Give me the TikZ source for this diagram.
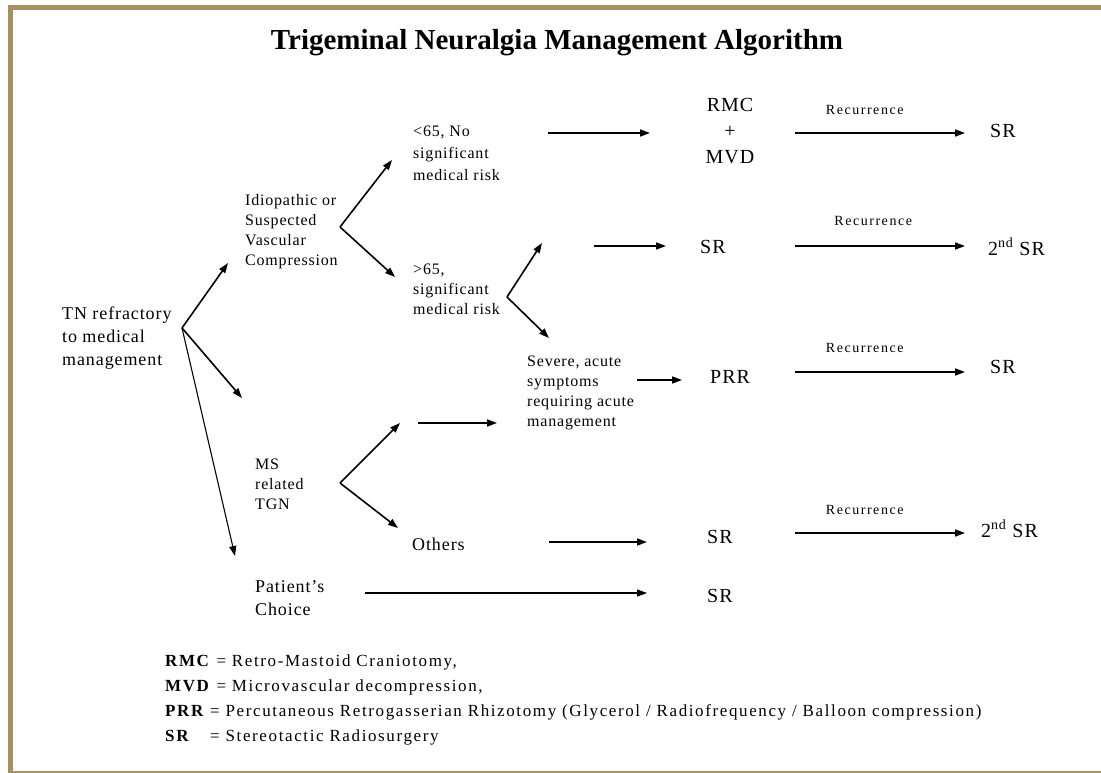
\documentclass[tikz,border=0pt]{standalone}
\usepackage{fontspec}
\setmainfont{Liberation Serif}
\newfontfamily\bodyfont{Liberation Serif}[Ligatures=TeX, LetterSpace=5]
\newfontfamily\wideletters{Liberation Serif}[Ligatures=TeX, LetterSpace=11]
\newfontfamily\legendfont{Liberation Serif}[Ligatures=TeX, LetterSpace=9.5]
\usepackage{tikz}
\usetikzlibrary{arrows.meta}
\definecolor{bordergold}{RGB}{166,145,96}

\begin{document}
\begin{tikzpicture}[x=1pt, y=-1pt,
      txt/.style    = {anchor=west, align=left, inner sep=0pt,
                       font=\bodyfont\fontsize{16}{20}\selectfont},
      big/.style    = {anchor=west, inner sep=0pt,
                       font=\bodyfont\fontsize{20}{23}\selectfont},
      rec/.style    = {inner sep=0pt, font=\wideletters\fontsize{14}{16}\selectfont},
      arr/.style    = {-{Triangle[length=10pt,width=7pt]}, line width=1.6pt},
      thinarr/.style = {arr, line width=1.1pt},
    ]
    \useasboundingbox (0,0) rectangle (1101,773);

    % --- Frame ---
    \fill[bordergold] (8,5) rectangle (1101,10);
    \fill[bordergold] (8,5) rectangle (13,773);
    \fill[bordergold] (13,771) rectangle (1101,773);

    \node[inner sep=0pt, font=\fontsize{29}{34}\selectfont\bfseries] (title) at (557,43)
      {Trigeminal Neuralgia Management Algorithm};

    % --- Stages (left to right) ---
    \node[txt, font=\bodyfont\fontsize{18}{23}\selectfont] (tn) at (62,338) {TN refractory\\to medical\\management};
    \node[txt] (idio)   at (245,232) {Idiopathic or\\Suspected\\Vascular\\Compression};
    \node[txt, font=\bodyfont\fontsize{16}{22}\selectfont] (young) at (413,153) {<65, No\\significant\\medical risk};
    \node[txt] (old)    at (413,289) {>65,\\significant\\medical risk};
    \node[txt] (severe) at (527,393) {Severe, acute\\symptoms\\requiring acute\\management};
    \node[txt] (ms)     at (255,484) {MS\\related\\TGN};
    \node[big, font=\bodyfont\fontsize{18}{23}\selectfont] (others) at (412,544) {Others};
    \node[txt, font=\bodyfont\fontsize{18}{23}\selectfont] (choice) at (255,598) {Patient's\\Choice};

    % --- Treatments ---
    \node[align=center, inner sep=0pt, font=\bodyfont\fontsize{20}{26}\selectfont] (rmc) at (730,131) {RMC\\+\\MVD};
    \node[big] (srA)  at (990,131) {SR};
    \node[big] (srB)  at (700,247) {SR};
    \node[big] (srB2) at (988,247) {2\textsuperscript{nd} SR};
    \node[big] (prr)  at (710,377) {PRR};
    \node[big] (srC)  at (990,367) {SR};
    \node[big] (srD)  at (707,537) {SR};
    \node[big] (srD2) at (981,529) {2\textsuperscript{nd} SR};
    \node[big] (srE)  at (707,596) {SR};

    % --- Fork points and arrow ends ---
    \coordinate (tnFork)   at (182,328);
    \coordinate (toIdio)   at (228,263);
    \coordinate (toMs)     at (242,398);
    \coordinate (toChoice) at (235,556);
    \coordinate (idioFork) at (340,227);
    \coordinate (toYoung)  at (392,160);
    \coordinate (toOld)    at (395,277);
    \coordinate (oldFork)  at (507,297);
    \coordinate (oldUp)    at (542,243);
    \coordinate (oldDown)  at (549,338);
    \coordinate (msFork)   at (340,483);
    \coordinate (msUp)     at (400,423);
    \coordinate (msDown)   at (398,528);

    \coordinate (r1a) at (548,133);  \coordinate (r1b) at (650,133);
    \coordinate (q1a) at (795,133);  \coordinate (q1b) at (965,133);
    \coordinate (r2a) at (594,246);  \coordinate (r2b) at (666,246);
    \coordinate (q2a) at (795,246);  \coordinate (q2b) at (965,246);
    \coordinate (r3a) at (637,380);  \coordinate (r3b) at (682,380);
    \coordinate (q3a) at (795,372);  \coordinate (q3b) at (965,372);
    \coordinate (msa) at (418,423);  \coordinate (msb) at (497,423);
    \coordinate (r4a) at (549,542);  \coordinate (r4b) at (647,542);
    \coordinate (q4a) at (795,533);  \coordinate (q4b) at (965,533);
    \coordinate (r5a) at (365,593);  \coordinate (r5b) at (647,593);

    % --- Branches ---
    \draw[arr] (tnFork) -- (toIdio);
    \draw[arr] (tnFork) -- (toMs);
    \draw[thinarr] (tnFork) -- (toChoice);
    \draw[arr] (idioFork) -- (toYoung);
    \draw[arr] (idioFork) -- (toOld);
    \draw[arr] (oldFork) -- (oldUp);
    \draw[arr] (oldFork) -- (oldDown);
    \draw[arr] (msFork) -- (msUp);
    \draw[arr] (msFork) -- (msDown);

    % --- Treatment arrows ---
    \draw[arr] (r1a) -- (r1b);
    \draw[arr] (r2a) -- (r2b);
    \draw[arr] (r3a) -- (r3b);
    \draw[arr] (msa) -- (msb);
    \draw[arr] (r4a) -- (r4b);
    \draw[thinarr] (r5a) -- (r5b);

    % --- Recurrence ---
    \draw[arr] (q1a) -- node[rec, above=18pt, pos=0.41] (rec1) {Recurrence} (q1b);
    \draw[arr] (q2a) -- node[rec, above=20pt, pos=0.46] (rec2) {Recurrence} (q2b);
    \draw[arr] (q3a) -- node[rec, above=19pt, pos=0.41] (rec3) {Recurrence} (q3b);
    \draw[arr] (q4a) -- node[rec, above=18pt, pos=0.41] (rec4) {Recurrence} (q4b);

    % --- Legend ---
    \node[anchor=west, align=left, inner sep=0pt, font=\legendfont\fontsize{17}{25}\selectfont] (legend) at (165,699.5)
      {\textbf{RMC} = Retro-Mastoid Craniotomy,\\
       \textbf{MVD} = Microvascular decompression,\\
       \makebox[45pt][l]{\textbf{PRR}}= Percutaneous Retrogasserian Rhizotomy (Glycerol / Radiofrequency / Balloon compression)\\
       \makebox[45pt][l]{\textbf{SR}}= Stereotactic Radiosurgery};

  \end{tikzpicture}
\end{document}
